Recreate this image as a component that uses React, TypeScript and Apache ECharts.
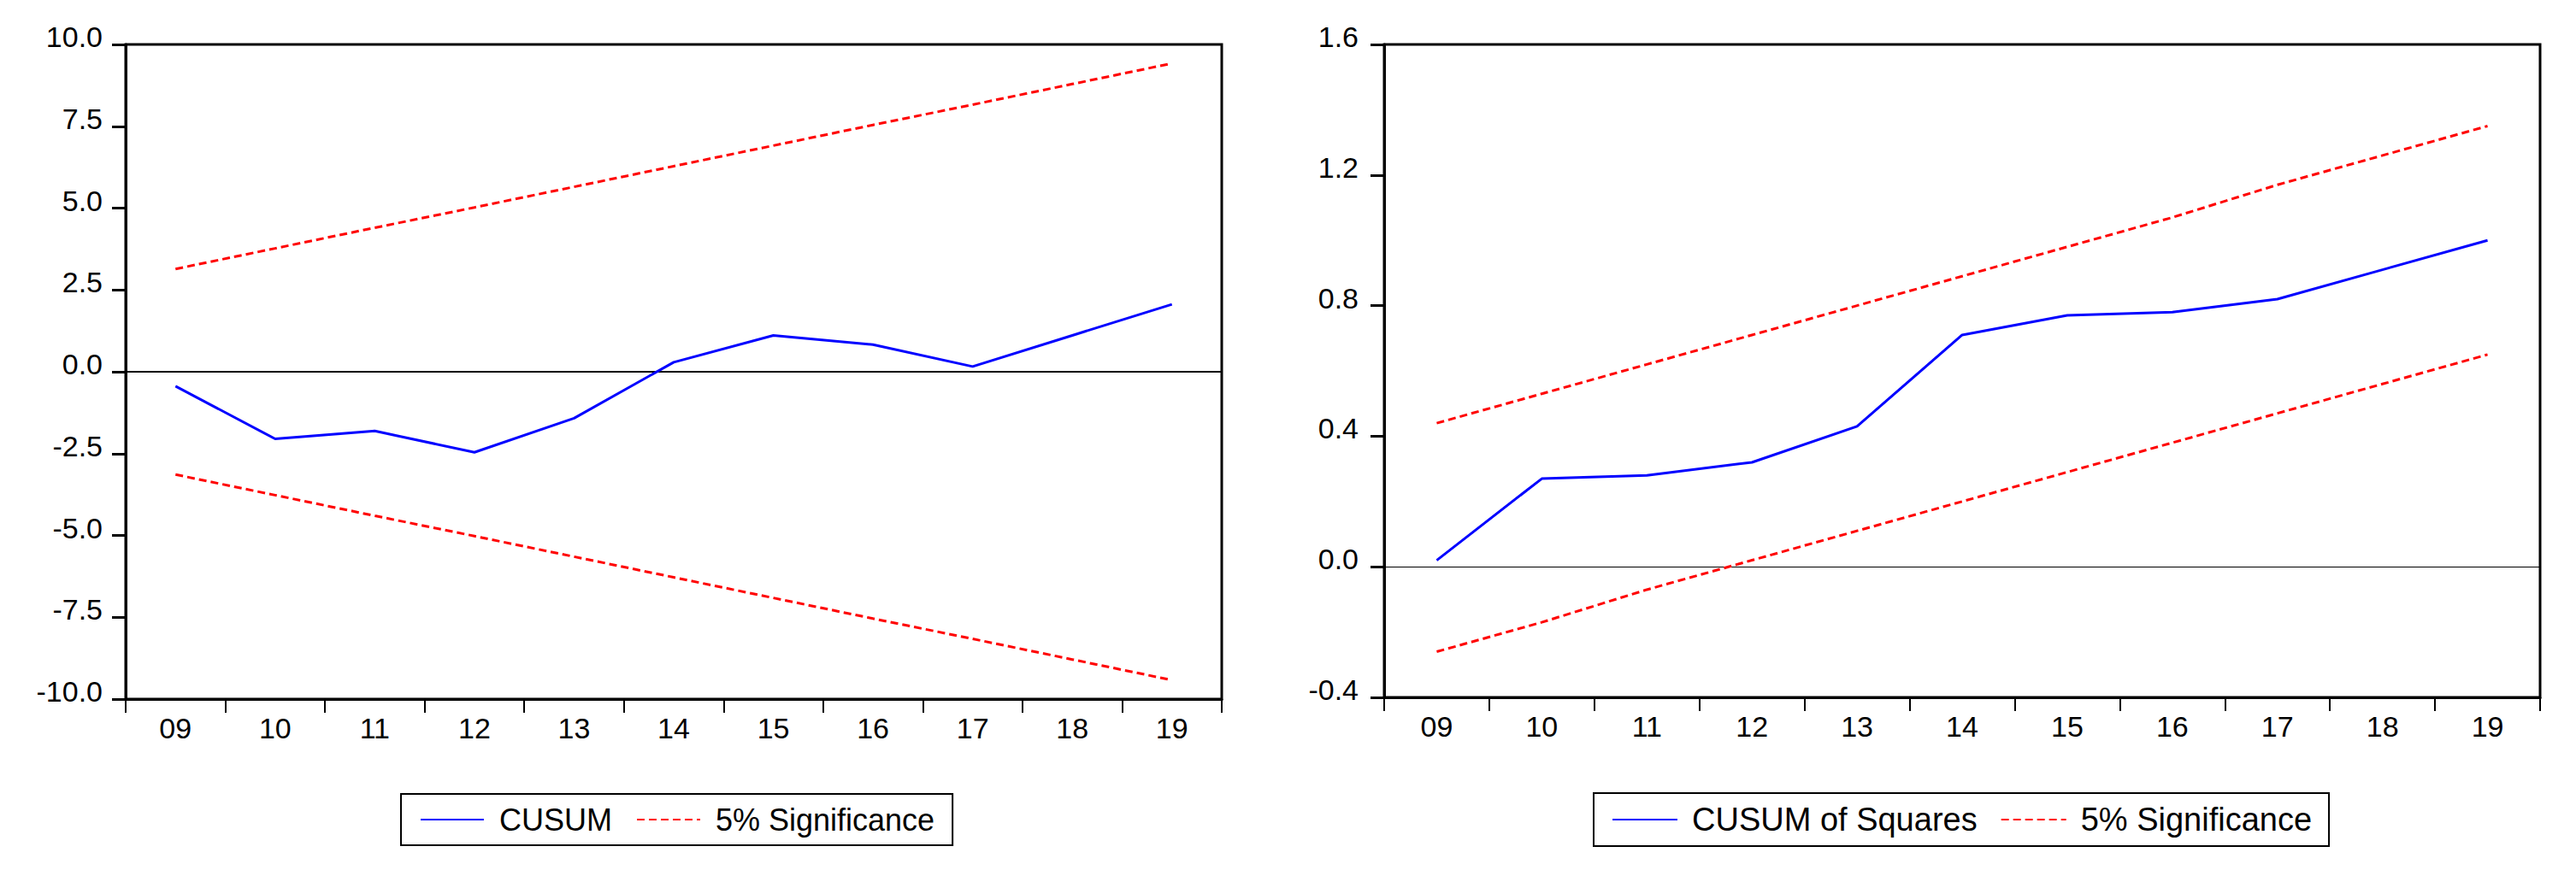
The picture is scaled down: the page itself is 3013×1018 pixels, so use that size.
import React, { useEffect, useRef } from "react";
import * as echarts from "echarts";

const categories = ["09", "10", "11", "12", "13", "14", "15", "16", "17", "18", "19"];

const cusum = [-0.44, -2.05, -1.81, -2.46, -1.42, 0.29, 1.11, 0.83, 0.16, 1.11, 2.06];
const cusumUpper = [3.14, 3.77, 4.4, 5.02, 5.65, 6.28, 6.91, 7.54, 8.16, 8.79, 9.42];
const cusumLower = [-3.14, -3.77, -4.4, -5.02, -5.65, -6.28, -6.91, -7.54, -8.16, -8.79, -9.42];

const cusumSq = [0.02, 0.27, 0.28, 0.32, 0.43, 0.71, 0.77, 0.78, 0.82, 0.91, 1.0];
const sqUpper = [0.44, 0.53, 0.62, 0.71, 0.8, 0.89, 0.98, 1.07, 1.17, 1.26, 1.35];
const sqLower = [-0.26, -0.17, -0.07, 0.02, 0.11, 0.2, 0.29, 0.38, 0.47, 0.56, 0.65];

const FONT = "'Liberation Sans', Arial, Helvetica, sans-serif";
const BLUE = "#0000FF";
const RED = "#FF0000";

function xAxisCfg(gridIndex: number) {
  return {
    type: "category",
    gridIndex,
    data: categories,
    boundaryGap: true,
    axisLine: { show: true, onZero: false, lineStyle: { color: "#000", width: 3 } },
    axisTick: { show: true, length: 16, lineStyle: { color: "#000", width: 2 } },
    axisLabel: { color: "#000", fontFamily: FONT, fontSize: 34, margin: 17 },
    splitLine: { show: false },
  };
}

function yAxisCfg(gridIndex: number, min: number, max: number, interval: number, margin: number) {
  return {
    type: "value",
    gridIndex,
    min,
    max,
    interval,
    axisLine: { show: true, onZero: false, lineStyle: { color: "#000", width: 3 } },
    axisTick: { show: true, length: 16, lineStyle: { color: "#000", width: 3 } },
    axisLabel: {
      color: "#000",
      fontFamily: FONT,
      fontSize: 34,
      margin,
      verticalAlign: "bottom",
      lineHeight: 18,
      formatter: (v: number) => v.toFixed(1),
    },
    splitLine: { show: false },
  };
}

function App() {
  const ref = useRef<HTMLDivElement>(null);

  useEffect(() => {
    document.body.style.margin = "0";
    if (!ref.current) return;
    const chart = echarts.init(ref.current, undefined, { renderer: "svg" });

    const lineBase = { type: "line", symbol: "none", showSymbol: false, silent: true };

    const legendBase = {
      orient: "horizontal",
      itemHeight: 20,
      borderColor: "#000",
      borderWidth: 2,
      selectedMode: false,
      itemStyle: { opacity: 0 },
    };

    const option = {
      animation: false,
      backgroundColor: "#fff",
      grid: [
        { left: 147, top: 52, width: 1282, height: 766, show: true, borderColor: "#000", borderWidth: 3, backgroundColor: "transparent" },
        { left: 1619, top: 52, width: 1352, height: 764, show: true, borderColor: "#000", borderWidth: 3, backgroundColor: "transparent" },
      ],
      xAxis: [xAxisCfg(0), xAxisCfg(1)],
      yAxis: [yAxisCfg(0, -10, 10, 2.5, 27), yAxisCfg(1, -0.4, 1.6, 0.4, 30)],
      legend: [
        {
          ...legendBase,
          left: 469,
          top: 929,
          data: ["CUSUM", "5% Significance"],
          itemWidth: 74,
          itemGap: 28,
          padding: [12, 21, 12, 22],
          textStyle: { color: "#000", fontFamily: FONT, fontSize: 36, padding: [0, 0, 0, 13] },
        },
        {
          ...legendBase,
          left: 1864,
          top: 928,
          data: ["CUSUM of Squares", "5% Significance"],
          itemWidth: 76,
          itemGap: 27,
          padding: [12, 20, 12, 21],
          textStyle: { color: "#000", fontFamily: FONT, fontSize: 38, padding: [0, 0, 0, 12] },
        },
      ],
      series: [
        {
          ...lineBase,
          name: "CUSUM",
          xAxisIndex: 0,
          yAxisIndex: 0,
          data: cusum,
          z: 5,
          lineStyle: { color: BLUE, width: 3 },
          itemStyle: { color: BLUE },
          markLine: {
            silent: true,
            symbol: "none",
            label: { show: false },
            lineStyle: { color: "#000", type: "solid", width: 2 },
            data: [{ yAxis: 0 }],
            z: 2,
          },
        },
        {
          ...lineBase,
          name: "5% Significance",
          xAxisIndex: 0,
          yAxisIndex: 0,
          data: cusumUpper,
          lineStyle: { color: RED, width: 3, type: [9, 5] },
          itemStyle: { color: RED },
        },
        {
          ...lineBase,
          name: "5% Significance",
          xAxisIndex: 0,
          yAxisIndex: 0,
          data: cusumLower,
          lineStyle: { color: RED, width: 3, type: [9, 5] },
          itemStyle: { color: RED },
        },
        {
          ...lineBase,
          name: "CUSUM of Squares",
          xAxisIndex: 1,
          yAxisIndex: 1,
          data: cusumSq,
          z: 5,
          lineStyle: { color: BLUE, width: 3 },
          itemStyle: { color: BLUE },
          markLine: {
            silent: true,
            symbol: "none",
            label: { show: false },
            lineStyle: { color: "#000", type: "solid", width: 1 },
            data: [{ yAxis: 0 }],
            z: 2,
          },
        },
        {
          ...lineBase,
          name: "5% Significance",
          xAxisIndex: 1,
          yAxisIndex: 1,
          data: sqUpper,
          lineStyle: { color: RED, width: 3, type: [9, 5] },
          itemStyle: { color: RED },
        },
        {
          ...lineBase,
          name: "5% Significance",
          xAxisIndex: 1,
          yAxisIndex: 1,
          data: sqLower,
          lineStyle: { color: RED, width: 3, type: [9, 5] },
          itemStyle: { color: RED },
        },
      ],
    };

    chart.setOption(option as any);
    return () => {
      chart.dispose();
    };
  }, []);

  return <div ref={ref} style={{ width: 3013, height: 1018, background: "#fff" }} />;
}

export default App;
